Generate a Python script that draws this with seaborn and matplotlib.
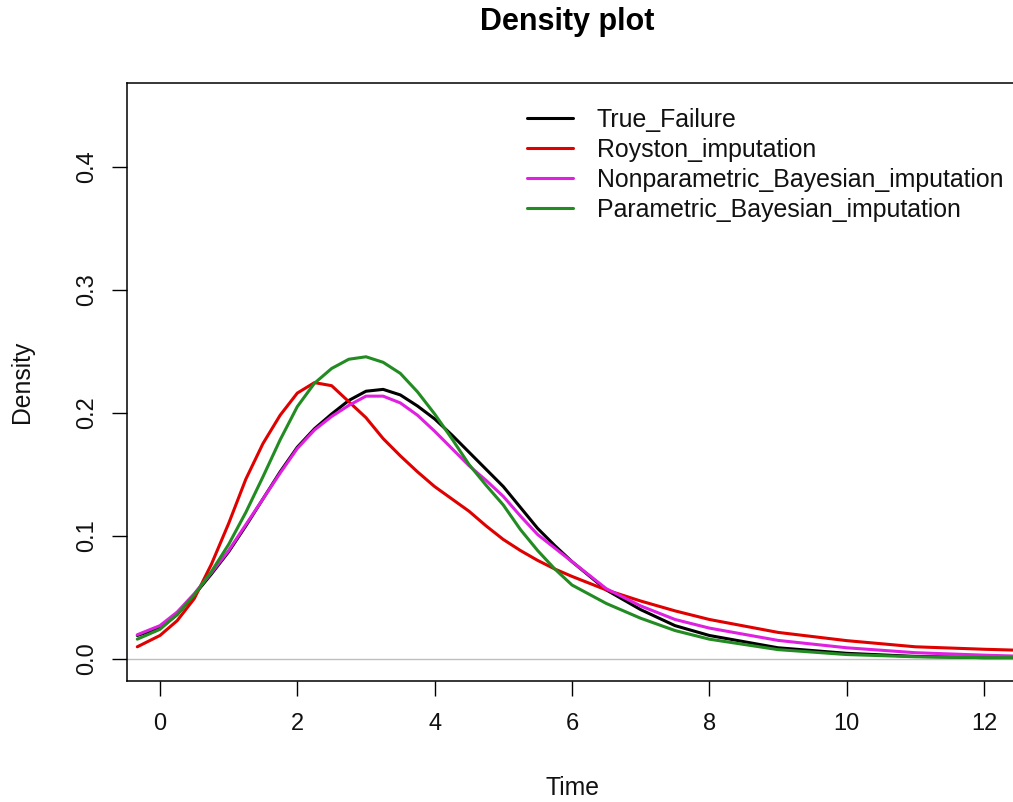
import matplotlib
matplotlib.use("Agg")
import matplotlib.pyplot as plt
import seaborn as sns
import pandas as pd
from matplotlib.lines import Line2D

# ---- data ----
time_grid = [-0.33, 0, 0.25, 0.5, 0.75, 1, 1.25, 1.5, 1.75, 2, 2.25, 2.5, 2.75, 3,
             3.25, 3.5, 3.75, 4, 4.25, 4.5, 4.75, 5, 5.25, 5.5, 5.75, 6,
             6.5, 7, 7.5, 8, 9, 10, 11, 12, 12.5]

true_failure = [0.019, 0.025, 0.036, 0.052, 0.069, 0.087, 0.108, 0.130, 0.152, 0.172,
                0.187, 0.199, 0.210, 0.2175, 0.219, 0.2145, 0.2055, 0.195, 0.182, 0.168,
                0.154, 0.140, 0.123, 0.106, 0.092, 0.079,
                0.056, 0.040, 0.027, 0.019, 0.009, 0.0045, 0.002, 0.001, 0.001]

royston = [0.0098, 0.019, 0.031, 0.049, 0.077, 0.110, 0.146, 0.175, 0.198, 0.216,
           0.2245, 0.222, 0.209, 0.196, 0.179, 0.165, 0.152, 0.140, 0.130, 0.120,
           0.108, 0.097, 0.088, 0.080, 0.073, 0.067,
           0.056, 0.047, 0.039, 0.032, 0.0215, 0.0148, 0.0098, 0.0078, 0.007]

nonparam_bayes = [0.0196, 0.027, 0.038, 0.053, 0.070, 0.088, 0.109, 0.130, 0.151, 0.171,
                  0.186, 0.197, 0.206, 0.2135, 0.2135, 0.208, 0.198, 0.185, 0.171, 0.157,
                  0.145, 0.132, 0.116, 0.101, 0.090, 0.079,
                  0.057, 0.043, 0.032, 0.025, 0.015, 0.009, 0.005, 0.003, 0.0022]

param_bayes = [0.016, 0.024, 0.036, 0.052, 0.071, 0.093, 0.119, 0.148, 0.178, 0.205,
               0.224, 0.236, 0.2435, 0.2455, 0.241, 0.232, 0.217, 0.199, 0.179, 0.158,
               0.141, 0.125, 0.105, 0.088, 0.073, 0.060,
               0.045, 0.033, 0.023, 0.016, 0.0075, 0.0035, 0.0017, 0.001, 0.001]

series_names = ["True_Failure", "Royston_imputation",
                "Nonparametric_Bayesian_imputation", "Parametric_Bayesian_imputation"]
series_colors = ["black", "#E00000", "#E020E0", "#228B22"]
x_ticks = [0, 2, 4, 6, 8, 10, 12]
y_ticks = [0.0, 0.1, 0.2, 0.3, 0.4]

# ---- build long table ----
rows = []
for name, vals in zip(series_names,
                      [true_failure, royston, nonparam_bayes, param_bayes]):
    for t, v in zip(time_grid, vals):
        rows.append({"Time": t, "Density": v, "series": name})
df = pd.DataFrame(rows)

sns.set_style("white")
plt.rcParams["font.family"] = ["Liberation Sans", "DejaVu Sans"]

W, H = 1013, 802
fig = plt.figure(figsize=(W / 100, H / 100), dpi=100)
ax = fig.add_axes([127 / W, (H - 681) / H, (1017 - 127) / W, (681 - 83) / H])

ax.axhline(0, color="#BEBEBE", lw=1.0, zorder=1)
sns.lineplot(data=df, x="Time", y="Density", hue="series", hue_order=series_names,
             palette=dict(zip(series_names, series_colors)), estimator=None,
             sort=False, linewidth=2.2, legend=False, ax=ax, zorder=3)
for ln in ax.get_lines():
    ln.set_solid_joinstyle("round")

ax.set_xlim(-0.48, 12.48)
ax.set_ylim(-0.018, 0.468)
ax.set_xticks(x_ticks)
ax.set_xticklabels([str(v) for v in x_ticks])
ax.set_yticks(y_ticks)
ax.set_yticklabels([f"{v:.1f}" for v in y_ticks], rotation=90, va="center")

for s in ax.spines.values():
    s.set_visible(True)
    s.set_color("black")
    s.set_linewidth(1.1)

ax.tick_params(axis="both", direction="out", length=10.5, width=1.0, color="black",
               labelsize=17, labelcolor="#111111", left=True, bottom=True)
ax.tick_params(axis="x", pad=12.5)
ax.tick_params(axis="y", pad=10.5)

ax.set_xlabel("Time", fontsize=17.8, color="#111111")
ax.set_ylabel("Density", fontsize=17.8, color="#111111")
ax.xaxis.set_label_coords(0.5, (681 - 788) / (681 - 83))
ax.xaxis.label.set_va("center")
ax.yaxis.set_label_coords((22 - 127) / (1017 - 127), 0.5)
ax.yaxis.label.set_va("center")

fig.text(567 / W, 1 - 22 / H, "Density plot", ha="center", va="center",
         fontsize=22, fontweight="bold", color="black")

handles = [Line2D([0], [0], color=c, lw=2.2) for c in series_colors]
fig.legend(handles, series_names, loc="upper left",
           bbox_to_anchor=(527 / W, 1 - 107.5 / H), frameon=False,
           fontsize=17.9, handlelength=1.85, handletextpad=0.96,
           labelspacing=0.245, borderpad=0, borderaxespad=0,
           labelcolor="#111111")

fig.savefig("out.png", dpi=100)
